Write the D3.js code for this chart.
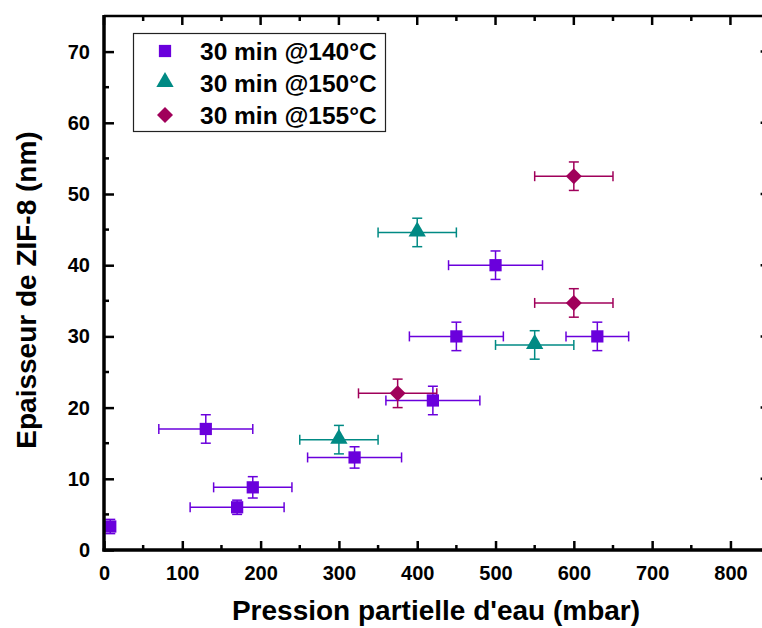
<!DOCTYPE html>
<html><head><meta charset="utf-8">
<script src="https://cdn.jsdelivr.net/npm/d3@7"></script>
<style>body{margin:0;background:#fff}svg{display:block}text{font-family:"Liberation Sans",Arial,sans-serif;font-weight:bold}</style>
</head><body><svg id="c" width="762" height="628"></svg>
<script>
const seriesNames = ["30 min @140°C", "30 min @150°C", "30 min @155°C"];
const seriesColors = ["#6a00dc", "#008a84", "#a0005a"];
const seriesShapes = ["square", "triangle", "diamond"];
// series 140°C
const x140 = [8, 170, 190, 130, 320, 420, 450, 500, 630];
const y140 = [3.3, 6, 8.8, 17, 13, 21, 30, 40, 30];
const xe140 = [5, 60, 50, 60, 60, 60, 60, 60, 40];
const ye140 = [1, 1, 1.5, 2, 1.5, 2, 2, 2, 2];
// series 150°C
const x150 = [300, 400, 550];
const y150 = [15.5, 44.6, 28.8];
const xe150 = [50, 50, 50];
const ye150 = [2, 2, 2];
// series 155°C
const x155 = [375, 600, 600];
const y155 = [22, 34.7, 52.5];
const xe155 = [50, 50, 50];
const ye155 = [2, 2, 2];
const xTicks = [0, 100, 200, 300, 400, 500, 600, 700, 800];
const yTicks = [0, 10, 20, 30, 40, 50, 60, 70];
const xTitle = "Pression partielle d'eau (mbar)";
const yTitle = "Epaisseur de ZIF-8 (nm)";

const series = [
  {x: x140, y: y140, xe: xe140, ye: ye140},
  {x: x150, y: y150, xe: xe150, ye: ye150},
  {x: x155, y: y155, xe: xe155, ye: ye155}
];

const svg = d3.select("#c");
const L = 104, R = 769.6, T = 16, B = 550;
const x = d3.scaleLinear().domain([0, 850]).range([L, R]);
const y = d3.scaleLinear().domain([0, 75]).range([B, T]);

const symType = {square: d3.symbolSquare, triangle: d3.symbolTriangle, diamond: d3.symbolSquare};
const symSize = {square: 150, triangle: 130, diamond: 128};
function markTransform(sh, px, py) {
  if (sh === "triangle") return `translate(${px},${py - 1})`;
  if (sh === "diamond") return `translate(${px},${py}) rotate(45)`;
  return `translate(${px},${py})`;
}

// error bars
series.forEach((s, si) => {
  const g = svg.append("g").attr("stroke", seriesColors[si]).attr("stroke-width", 1.5).attr("fill", "none");
  s.x.forEach((xv, i) => {
    const cx = x(xv), cy = y(s.y[i]);
    const x0 = x(xv - s.xe[i]), x1 = x(xv + s.xe[i]);
    const y0 = y(s.y[i] - s.ye[i]), y1 = y(s.y[i] + s.ye[i]);
    g.append("line").attr("x1", x0).attr("x2", x1).attr("y1", cy).attr("y2", cy);
    g.append("line").attr("x1", x0).attr("x2", x0).attr("y1", cy - 5).attr("y2", cy + 5);
    g.append("line").attr("x1", x1).attr("x2", x1).attr("y1", cy - 5).attr("y2", cy + 5);
    g.append("line").attr("x1", cx).attr("x2", cx).attr("y1", y0).attr("y2", y1);
    g.append("line").attr("x1", cx - 5).attr("x2", cx + 5).attr("y1", y0).attr("y2", y0);
    g.append("line").attr("x1", cx - 5).attr("x2", cx + 5).attr("y1", y1).attr("y2", y1);
  });
});
// markers
series.forEach((s, si) => {
  const sh = seriesShapes[si];
  const sym = d3.symbol().type(symType[sh]).size(symSize[sh]);
  svg.append("g").selectAll("path").data(s.x.map((xv, i) => [xv, s.y[i]])).join("path")
    .attr("d", sym)
    .attr("transform", d => markTransform(sh, x(d[0]), y(d[1])))
    .attr("fill", seriesColors[si]);
});

// axes
const ax = svg.append("g");
const xMinor = d3.range(50, 850, 100);
const yMinor = d3.range(5, 75, 10);
function axisLine(x1, y1, x2, y2, w) {
  ax.append("line").attr("x1", x1).attr("y1", y1).attr("x2", x2).attr("y2", y2).attr("stroke", "#000").attr("stroke-width", w);
}
const bottom = svg.append("g").attr("transform", `translate(0,${B})`)
  .call(d3.axisBottom(x).tickValues(xTicks).tickSize(-9).tickPadding(16).tickFormat(d3.format("d")));
bottom.select(".domain").remove();
bottom.selectAll(".tick line").attr("stroke-width", 2.5);
bottom.selectAll("text").attr("font-size", 20).attr("fill", "#000");
xMinor.forEach(v => axisLine(x(v), B, x(v), B - 5, 2.5));
const left = svg.append("g").attr("transform", `translate(${L},0)`)
  .call(d3.axisLeft(y).tickValues(yTicks).tickSize(-10).tickPadding(14).tickFormat(d3.format("d")));
left.select(".domain").remove();
left.selectAll(".tick line").attr("stroke-width", 2.5);
left.selectAll("text").attr("font-size", 20).attr("fill", "#000");
yMinor.forEach(v => axisLine(L, y(v), L + 5, y(v), 2.5));
xTicks.forEach(v => axisLine(x(v), T, x(v), T + 9, 2.5));
xMinor.forEach(v => axisLine(x(v), T, x(v), T + 5, 2.5));
yTicks.forEach(v => axisLine(R, y(v), R - 9, y(v), 2.5));
yMinor.forEach(v => axisLine(R, y(v), R - 5, y(v), 2.5));
axisLine(L, T, R, T, 2.5);
axisLine(R, T, R, B, 2.5);
axisLine(L - 1.5, B, R + 1.5, B, 3.5);
axisLine(L, T - 1, L, B + 1.5, 3.5);

// titles
svg.append("text").attr("x", 436).attr("y", 620).attr("text-anchor", "middle").attr("font-size", 28).text(xTitle);
svg.append("text").attr("transform", "translate(36,290) rotate(-90)").attr("text-anchor", "middle").attr("font-size", 28).text(yTitle);

// legend
const lg = svg.append("g");
lg.append("rect").attr("x", 133.5).attr("y", 33.5).attr("width", 252).attr("height", 98).attr("fill", "#fff").attr("stroke", "#222").attr("stroke-width", 1.2);
seriesNames.forEach((n, i) => {
  const cy = 51 + i * 32;
  const sh = seriesShapes[i];
  lg.append("path").attr("d", d3.symbol().type(symType[sh]).size(symSize[sh])())
    .attr("transform", markTransform(sh, 165, cy))
    .attr("fill", seriesColors[i]);
  lg.append("text").attr("x", 200).attr("y", cy + 9).attr("font-size", 24.5).text(n);
});
</script></body></html>
